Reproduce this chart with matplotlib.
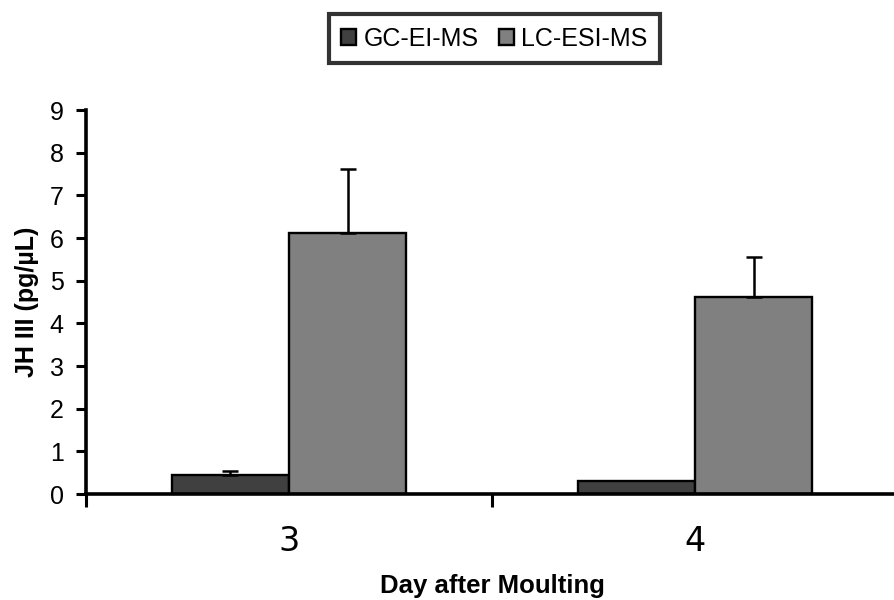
import matplotlib
matplotlib.use("Agg")
import matplotlib.pyplot as plt
import numpy as np

days = ["3", "4"]
gc_ei_ms = [0.45, 0.31]
gc_ei_ms_err = [0.10, 0.0]
lc_esi_ms = [6.12, 4.62]
lc_esi_ms_err = [1.50, 0.94]
series_names = ["GC-EI-MS", "LC-ESI-MS"]
y_ticks = [0, 1, 2, 3, 4, 5, 6, 7, 8, 9]

plt.rcParams["font.family"] = ["Liberation Sans", "DejaVu Sans"]

fig = plt.figure(figsize=(8.94, 6.0), dpi=100)
ax = fig.add_axes([86 / 894, 106 / 600, 812 / 894, 384 / 600])

x = np.arange(len(days))
w = 0.289


def draw_series(pos, vals, errs, color, name):
    ax.bar(pos, vals, w, color=color, edgecolor="black", linewidth=1.7,
           label=name, zorder=2)
    errs = np.asarray(errs)
    keep = errs > 0
    ax.errorbar(np.asarray(pos)[keep], np.asarray(vals)[keep],
                yerr=[np.zeros(keep.sum()), errs[keep]], fmt="none",
                ecolor="black", elinewidth=1.8, capthick=1.8, capsize=5.5,
                zorder=3)


draw_series(x - w / 2, gc_ei_ms, gc_ei_ms_err, "#404040", series_names[0])
draw_series(x + w / 2, lc_esi_ms, lc_esi_ms_err, "#808080", series_names[1])

ax.set_xlim(-0.5, 1.5)
ax.set_ylim(0, 9)
ax.set_yticks(y_ticks)
ax.tick_params(axis="y", direction="out", length=7, width=2.2, labelsize=18, pad=9)

ax.set_xticks(x)
ax.set_xticklabels(days, fontfamily="DejaVu Sans", fontsize=24)
ax.tick_params(axis="x", which="major", length=0, pad=22)
ax.set_xticks([-0.5, 0.5, 1.5], minor=True)
ax.tick_params(axis="x", which="minor", direction="out", length=9, width=2.2)

for side in ("top", "right"):
    ax.spines[side].set_visible(False)
for side in ("left", "bottom"):
    ax.spines[side].set_linewidth(2.6)

ax.set_xlabel("Day after Moulting", fontsize=18.5, fontweight="bold", labelpad=12)
ax.set_ylabel("JH III (pg/µL)", fontsize=18, fontweight="bold", labelpad=8)

leg = ax.legend(loc="upper center", bbox_to_anchor=(0.503, 1.25), ncol=2,
                frameon=True, fancybox=False, fontsize=18, handlelength=0.6,
                handleheight=0.6, handletextpad=0.3, columnspacing=0.8,
                borderpad=0.5, borderaxespad=0)
leg.get_frame().set_edgecolor("black")
leg.get_frame().set_linewidth(3)

fig.savefig("out.png", dpi=100)
